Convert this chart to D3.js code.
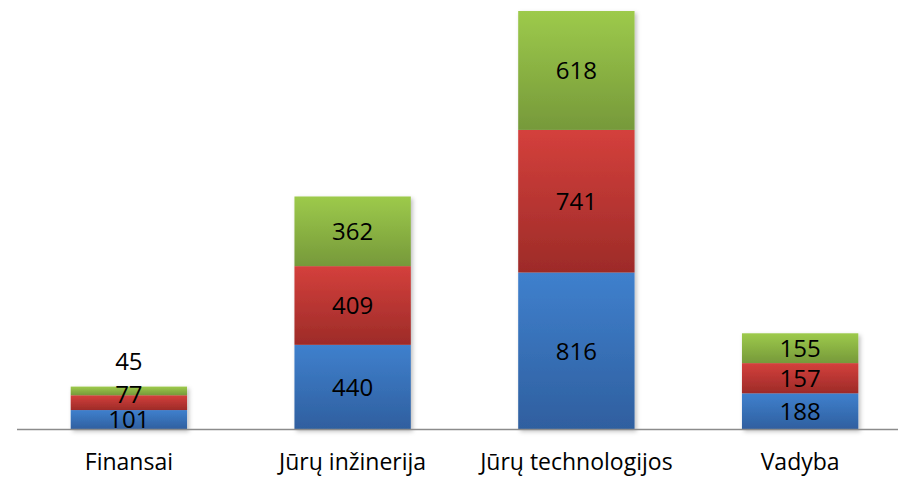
<!DOCTYPE html>
<html>
<head>
<meta charset="utf-8">
<script src="https://cdn.jsdelivr.net/npm/d3@7"></script>
<style>
  html, body { margin: 0; padding: 0; background: #fff; }
  svg { display: block; }
</style>
</head>
<body>
<div id="chart"></div>
<script>
const categories = ["Finansai", "Jūrų inžinerija", "Jūrų technologijos", "Vadyba"];
const seriesKeys = ["blue", "red", "green"];
const blueValues = [101, 440, 816, 188];
const redValues = [77, 409, 741, 157];
const greenValues = [45, 362, 618, 155];

const width = 898;
const height = 478;
const baseY = 429.5;
const topY = 11;
const fontFamily = "'Open Sans', 'DejaVu Sans', sans-serif";

const colors = {
  blue: ["#3f80cd", "#2f5f9f"],
  red: ["#d4403c", "#9d2b28"],
  green: ["#9dca4b", "#76993a"],
};

const rows = categories.map((cat, i) => ({
  cat,
  blue: blueValues[i],
  red: redValues[i],
  green: greenValues[i],
}));

const stacked = d3.stack().keys(seriesKeys)(rows);
const maxTotal = d3.max(rows, (d) => d.blue + d.red + d.green);

const x = d3.scaleBand().domain(categories).range([17, 912]).paddingInner(0.48).paddingOuter(0.24);
const y = d3.scaleLinear().domain([0, maxTotal]).range([baseY, topY]);

const svg = d3.select("#chart").append("svg").attr("width", width).attr("height", height);
const defs = svg.append("defs");

seriesKeys.forEach((key) => {
  const g = defs.append("linearGradient").attr("id", `grad-${key}`).attr("x1", 0).attr("y1", 0).attr("x2", 0).attr("y2", 1);
  g.append("stop").attr("offset", "0%").attr("stop-color", colors[key][0]);
  g.append("stop").attr("offset", "100%").attr("stop-color", colors[key][1]);
});

const shadow = defs.append("filter").attr("id", "shadow").attr("x", "-10%").attr("y", "-10%").attr("width", "130%").attr("height", "130%");
shadow.append("feDropShadow").attr("dx", 2).attr("dy", 2).attr("stdDeviation", 2).attr("flood-color", "#000").attr("flood-opacity", 0.25);

/** Bars **/
const barsG = svg.append("g").attr("filter", "url(#shadow)");
stacked.forEach((layer) => {
  barsG
    .append("g")
    .attr("fill", `url(#grad-${layer.key})`)
    .selectAll("rect")
    .data(layer)
    .join("rect")
    .attr("x", (d) => x(d.data.cat))
    .attr("width", x.bandwidth())
    .attr("y", (d) => y(d[1]))
    .attr("height", (d) => y(d[0]) - y(d[1]));
});

/** Axis line **/
svg
  .append("line")
  .attr("x1", 17)
  .attr("x2", width)
  .attr("y1", baseY)
  .attr("y2", baseY)
  .attr("stroke", "#8c8c8c")
  .attr("stroke-width", 1.5);

/** Value labels **/
const labelG = svg.append("g").attr("font-family", fontFamily).attr("font-size", 24).attr("fill", "#000").attr("text-anchor", "middle");
const minGap = 25;
categories.forEach((cat, i) => {
  let prevY = null;
  stacked.forEach((layer) => {
    const d = layer[i];
    const h = y(d[0]) - y(d[1]);
    // tiny segment: label goes above the bar
    let cy = h < 10 ? y(d[1]) - 25 : (y(d[0]) + y(d[1])) / 2;
    if (prevY !== null && prevY - cy < minGap) cy = prevY - minGap;
    prevY = cy;
    labelG
      .append("text")
      .attr("x", x(cat) + x.bandwidth() / 2)
      .attr("y", cy)
      .attr("dy", "0.36em")
      .text(d.data[layer.key]);
  });
});

/** Category labels **/
svg
  .append("g")
  .attr("font-family", fontFamily)
  .attr("font-size", 23)
  .attr("fill", "#000")
  .attr("text-anchor", "middle")
  .selectAll("text")
  .data(categories)
  .join("text")
  .attr("x", (d) => x(d) + x.bandwidth() / 2)
  .attr("y", 470)
  .text((d) => d);
</script>
</body>
</html>
